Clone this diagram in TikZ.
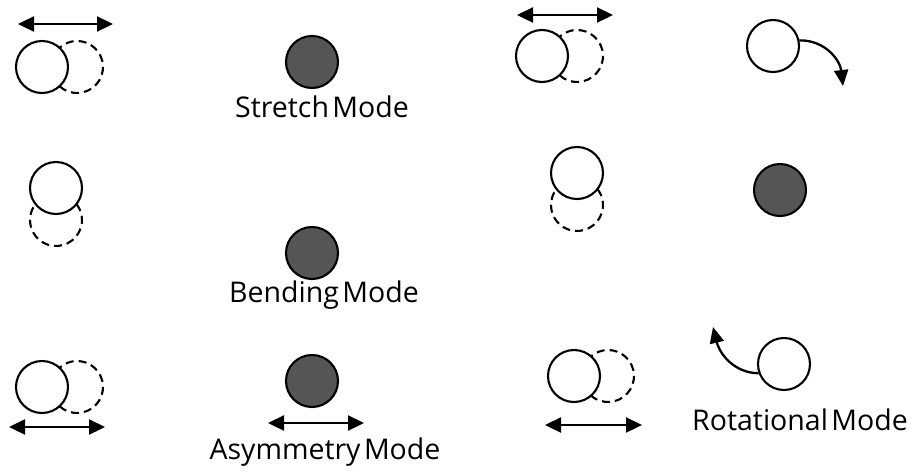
\documentclass[tikz,border=0pt]{standalone}
\usepackage{fontspec}
\setmainfont{Open Sans}
\usetikzlibrary{arrows.meta}
\definecolor{atomfill}{RGB}{85,85,85}
\newcommand\modefont{\fontsize{28.5}{32}\selectfont\spaceskip=0.12em\relax}
\begin{document}
\begin{tikzpicture}[x=1pt,y=-1pt,
  atom/.style={circle,draw,line width=2.1pt,minimum size=52pt,inner sep=0pt},
  central/.style={atom,fill=atomfill},
  ghostarc/.style={dash pattern=on 8pt off 5pt,line width=2.1pt},
  motion/.style={line width=2.3pt,{Triangle[length=16pt,width=15pt]}-{Triangle[length=16pt,width=15pt]}},
  turn/.style={line width=2.3pt,-{Triangle[length=16pt,width=14pt]}},
  label/.style={inner sep=0pt}]
\useasboundingbox (0,0) rectangle (911,472);

% ---------- Stretch mode ----------
\node[atom] (s1) at (42,67) {};
\draw[ghostarc] (77,67) ++(132:26) arc[start angle=132,end angle=-132,radius=26];
\coordinate (s1a) at (18,24); \coordinate (s1b) at (113,24);
\draw[motion] (s1a) -- (s1b);
\node[central] (s2) at (312,62) {};
\node[label] (sl) at (322,107) {\modefont Stretch Mode};
\node[atom] (s3) at (542,56) {};
\draw[ghostarc] (577,56) ++(132:26) arc[start angle=132,end angle=-132,radius=26];
\coordinate (s3a) at (517,15); \coordinate (s3b) at (613,15);
\draw[motion] (s3a) -- (s3b);

% ---------- Bending mode ----------
\node[atom] (b1) at (56,188) {};
\draw[ghostarc] (56,220) ++(-38:26) arc[start angle=-38,end angle=218,radius=26];
\node[central] (b2) at (312,253) {};
\node[label] (bl) at (324,295) {\modefont Bending Mode};
\node[atom] (b3) at (577,173) {};
\draw[ghostarc] (577,205) ++(-38:26) arc[start angle=-38,end angle=218,radius=26];

% ---------- Asymmetry mode ----------
\node[atom] (a1) at (42,387) {};
\draw[ghostarc] (77,387) ++(132:26) arc[start angle=132,end angle=-132,radius=26];
\coordinate (a1a) at (9,427); \coordinate (a1b) at (105,427);
\draw[motion] (a1a) -- (a1b);
\node[central] (a2) at (312,381) {};
\coordinate (a2a) at (268,423); \coordinate (a2b) at (364,423);
\draw[motion] (a2a) -- (a2b);
\node[label] (al) at (325,452) {\modefont Asymmetry Mode};
\node[atom] (a3) at (574,376) {};
\draw[ghostarc] (608,376) ++(132:26) arc[start angle=132,end angle=-132,radius=26];
\coordinate (a3a) at (545,425); \coordinate (a3b) at (642,425);
\draw[motion] (a3a) -- (a3b);

% ---------- Rotational mode ----------
\node[atom] (r1) at (773,46) {};
\coordinate (r1t) at (843,86);
\draw[turn] (r1.12) .. controls (825,40) and (840,60) .. (r1t);
\node[central] (r2) at (780,190) {};
\node[atom] (r3) at (784,364) {};
\coordinate (r3t) at (713,327);
\draw[turn] (r3.200) .. controls (735,373) and (720,355) .. (r3t);
\node[label] (rl) at (800,420) {\modefont Rotational Mode};
\end{tikzpicture}
\end{document}
